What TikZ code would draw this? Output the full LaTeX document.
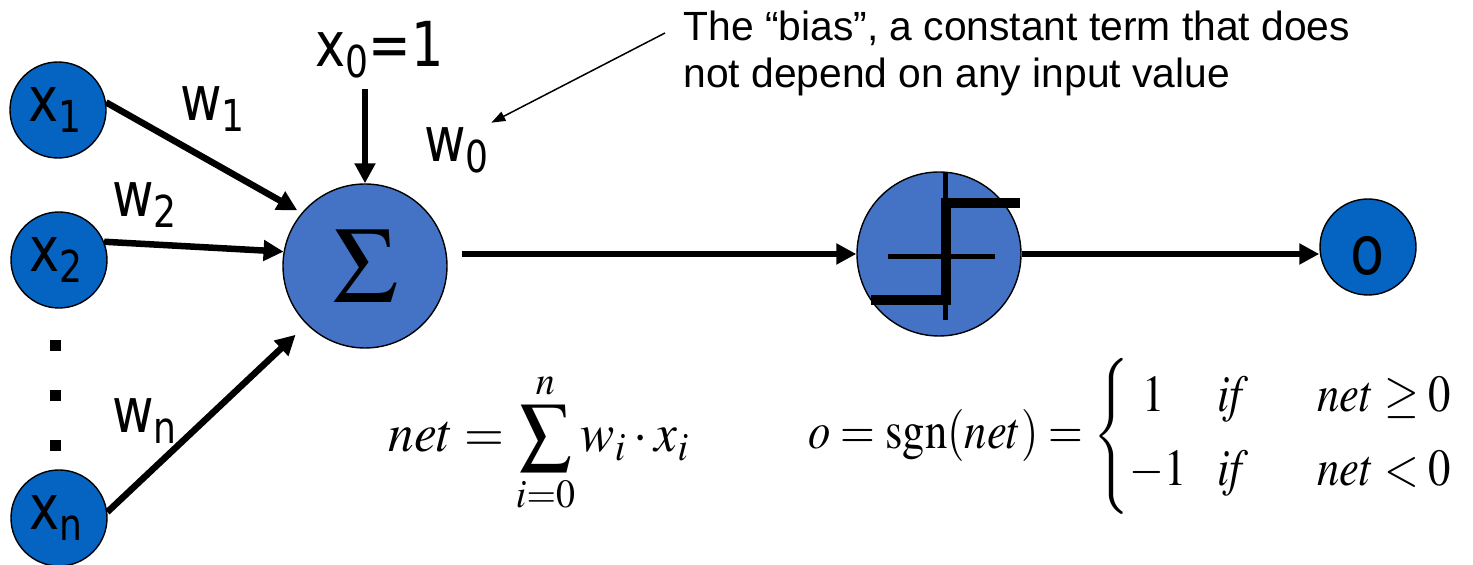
\documentclass[tikz,border=0pt]{standalone}
\usepackage{graphicx}
\usepackage{mathptmx}
\usepackage[no-math]{fontspec}
\newfontfamily\tfont[FakeStretch=0.82]{DejaVu Sans}
\newfontfamily\hfont{Liberation Sans}
\usetikzlibrary{arrows.meta,calc}
\definecolor{dblue}{RGB}{5,99,193}
\definecolor{mblue}{RGB}{68,114,196}
\newcommand\bigfont{\tfont\fontsize{31}{36}\selectfont}
\newcommand\sbs[1]{\raisebox{-5.5pt}{\fontsize{22}{22}\selectfont #1}}
\begin{document}
\begin{tikzpicture}[x=0.5pt,y=-0.5pt,
  circ/.style={circle,draw=black,line width=0.7pt,inner sep=0pt},
  inp/.style={circ,fill=dblue,minimum size=48pt},
  bigc/.style={circ,fill=mblue,minimum size=82pt},
  arr/.style={line width=3.25pt,-{Triangle[width=10pt,length=10pt]}},
  thinarr/.style={line width=0.75pt,-{Triangle[width=5pt,length=7pt]}},
  lbl/.style={inner sep=0pt,font=\bigfont,anchor=base west},
  dot/.style={fill=black,inner sep=0pt,minimum size=5.5pt},
  stepthin/.style={line width=2.5pt},
  stepthick/.style={line width=5pt,line join=miter}]
\useasboundingbox (0,0) rectangle (1473,565);

% input circles
\node[inp] (x1) at (58,110) {};
\node[inp] (x2) at (59,260) {};
\node[inp] (xn) at (59,518) {};
\node[lbl] (x1t) at ($(x1)+(-30,12)$) {x\sbs{1}};
\node[lbl] (x2t) at ($(x2)+(-30,12)$) {x\sbs{2}};
\node[lbl] (xnt) at ($(xn)+(-30,12)$) {x\sbs{n}};

% dots
\node[dot] (d1) at (55.5,346) {};
\node[dot] (d2) at (55.5,396) {};
\node[dot] (d3) at (55.5,446) {};

% summation
\node[bigc] (sigma) at (365,266) {\fontsize{54}{54}\selectfont$\Sigma$};

% step function
\node[bigc] (step) at (939,254) {};
\draw[stepthin] ($(step)+(6,-82)$) -- ($(step)+(6,66)$);
\draw[stepthin] ($(step)+(-51,3)$) -- ($(step)+(56,3)$);
\draw[stepthick] ($(step)+(-68,46)$) -- ($(step)+(7,46)$) -- ($(step)+(7,-51)$) -- ($(step)+(81,-51)$);

% output
\node[inp] (o) at (1368,247) {};
\node[lbl,anchor=base,font=\tfont\fontsize{34}{36}\selectfont] (ot) at ($(o)+(0,28)$) {o};

% weights and bias labels
\node[lbl] (w1) at (180,121) {w\sbs{1}};
\node[lbl] (w2) at (112,217) {w\sbs{2}};
\node[lbl] (wn) at (112,433) {w\sbs{n}};
\node[lbl] (w0) at (424,162) {w\sbs{0}};
\node[lbl] (x0) at (315,67) {x\sbs{0}=1};

% connectors
\draw[arr,shorten >=2.5pt] (x1.9) -- (sigma.140);
\draw[arr] (x2.22) -- (sigma.170);
\draw[arr,shorten >=7.5pt] (xn.7) -- (sigma.225);
\draw[arr] ($(sigma.north |- x0.south)+(0,10)$) -- (sigma.north);
\draw[arr] ($(sigma.east |- step.west)+(14,0)$) -- (step.west);
\draw[arr] (step.east) -- (o.west |- step.east);

% bias note
\node[anchor=north west,inner sep=0pt,align=left,font=\hfont\fontsize{20.4}{23.5}\selectfont] (bias) at (683,11)
  {The “bias”, a constant term that does\\not depend on any input value};
\coordinate (bs) at ($(bias.north west)+(-18,22)$);
\draw[thinarr] (bs) -- ($(w0.north east)+(2,-5)$);

% formulas
\node[anchor=base west,inner sep=0pt,font=\fontsize{27}{32}\selectfont] (net) at (388,452)
  {\scalebox{0.95}[1]{$\displaystyle net=\sum_{i=0}^{n} w_i\cdot x_i$}};
\node[anchor=base west,inner sep=0pt,font=\fontsize{26}{31}\selectfont] (sgn) at (808,449)
  {\scalebox{0.86}[1]{$o=\mathrm{sgn}(net)=\left\{\begin{array}{@{}l@{\hspace{18pt}}l@{\hspace{40pt}}l@{}}
   \hspace{7.5pt}1 & \mathit{if} & net\ge 0\\[6pt]
   -1 & \mathit{if} & net<0
  \end{array}\right.$}};
\end{tikzpicture}
\end{document}
